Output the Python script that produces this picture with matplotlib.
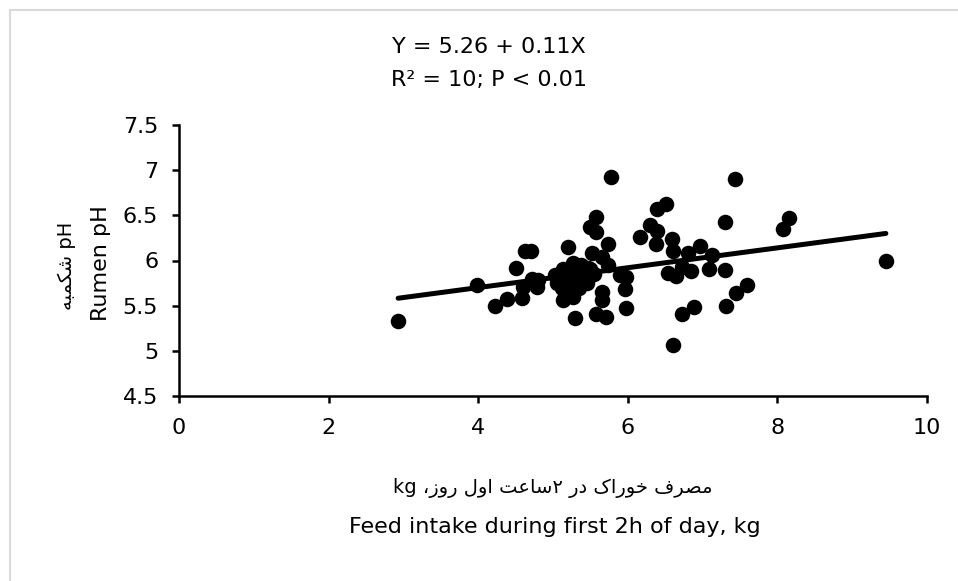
import re
import numpy as np
import matplotlib.pyplot as plt
from matplotlib.patches import Rectangle

# Feed intake (kg, first 2 h) vs rumen pH
feed_intake = [2.93, 3.98, 4.22, 4.38, 4.50, 4.58, 4.62, 4.70, 4.72, 4.60,
               4.78, 4.80, 5.03, 5.05, 5.14, 5.14, 5.20, 5.23, 5.27, 5.27,
               5.29, 5.45, 5.50, 5.50, 5.52, 5.58, 5.58, 5.58, 5.65, 5.65,
               5.65, 5.71, 5.74, 5.74, 5.77, 5.90, 5.96, 5.97, 5.97, 6.16,
               6.30, 6.39, 6.39, 6.51, 6.38, 6.59, 6.60, 6.54, 6.65, 6.72,
               6.85, 6.81, 6.96, 7.08, 7.12, 7.30, 7.30, 7.43, 7.45, 7.59,
               7.31, 6.88, 6.73, 6.60, 8.08, 8.15, 9.45,
               5.10, 5.18, 5.33, 5.40, 5.35, 5.22, 5.42, 5.55, 5.47, 5.30,
               5.38, 5.12]
rumen_ph = [5.33, 5.73, 5.50, 5.57, 5.92, 5.59, 6.10, 6.11, 5.79, 5.71,
            5.71, 5.78, 5.84, 5.75, 5.56, 5.91, 6.15, 5.78, 5.97, 5.60,
            5.36, 5.75, 5.91, 6.37, 6.08, 6.48, 6.31, 5.41, 6.04, 5.65,
            5.56, 5.37, 6.18, 5.95, 6.92, 5.84, 5.69, 5.82, 5.47, 6.26,
            6.39, 6.33, 6.57, 6.63, 6.18, 6.24, 6.11, 5.86, 5.83, 5.93,
            5.88, 6.08, 6.16, 5.91, 6.06, 5.89, 6.43, 6.90, 5.64, 5.73,
            5.50, 5.49, 5.41, 5.06, 6.35, 6.47, 6.00,
            5.80, 5.88, 5.78, 5.88, 5.70, 5.72, 5.80, 5.85, 5.92, 5.85,
            5.95, 5.70]

intercept, slope = 5.26, 0.11

x_ticks = [0, 2, 4, 6, 8, 10]
x_labels = ['0', '2', '4', '6', '8', '10']
y_ticks = [4.5, 5, 5.5, 6, 6.5, 7, 7.5]
y_labels = ['4.5', '5', '5.5', '6', '6.5', '7', '7.5']

eq_line1 = 'Y = 5.26 + 0.11X'
eq_line2 = 'R² = 10; P < 0.01'
xlabel_fa = 'مصرف خوراک در ۲ساعت اول روز، kg'
xlabel_en = 'Feed intake during first 2h of day, kg'
ylabel_fa = 'pH شکمبه'
ylabel_en = 'Rumen pH'

# matplotlib does no Arabic shaping, so pick presentation forms by hand
# (isolated, final, initial, medial)
FORMS = {
    'ا': (0xFE8D, 0xFE8E, None, None),
    'ب': (0xFE8F, 0xFE90, 0xFE91, 0xFE92),
    'ت': (0xFE95, 0xFE96, 0xFE97, 0xFE98),
    'خ': (0xFEA5, 0xFEA6, 0xFEA7, 0xFEA8),
    'د': (0xFEA9, 0xFEAA, None, None),
    'ر': (0xFEAD, 0xFEAE, None, None),
    'ز': (0xFEAF, 0xFEB0, None, None),
    'س': (0xFEB1, 0xFEB2, 0xFEB3, 0xFEB4),
    'ش': (0xFEB5, 0xFEB6, 0xFEB7, 0xFEB8),
    'ص': (0xFEB9, 0xFEBA, 0xFEBB, 0xFEBC),
    'ع': (0xFEC9, 0xFECA, 0xFECB, 0xFECC),
    'ف': (0xFED1, 0xFED2, 0xFED3, 0xFED4),
    'ل': (0xFEDD, 0xFEDE, 0xFEDF, 0xFEE0),
    'م': (0xFEE1, 0xFEE2, 0xFEE3, 0xFEE4),
    'ه': (0xFEE9, 0xFEEA, 0xFEEB, 0xFEEC),
    'و': (0xFEED, 0xFEEE, None, None),
    'ک': (0xFB8E, 0xFB8F, 0xFB90, 0xFB91),
}


def shape_rtl(text):
    out = []
    for i, ch in enumerate(text):
        if ch not in FORMS:
            out.append(ch)
            continue
        iso, fin, ini, med = FORMS[ch]
        prev = text[i - 1] if i > 0 else ''
        nxt = text[i + 1] if i + 1 < len(text) else ''
        jp = prev in FORMS and FORMS[prev][2] is not None
        jn = ini is not None and nxt in FORMS
        if jp and jn:
            out.append(chr(med))
        elif jp:
            out.append(chr(fin))
        elif jn:
            out.append(chr(ini))
        else:
            out.append(chr(iso))
    visual = ''.join(out)[::-1]
    # latin runs keep their own order
    return re.sub(r'[A-Za-z0-9.]+', lambda m: m.group(0)[::-1], visual)


W, H = 958, 581
fig = plt.figure(figsize=(W / 100, H / 100), dpi=100)
fig.patch.set_facecolor('white')

# light frame around the picture
fig.patches.append(Rectangle((10 / W, -0.05), 1.1, 1.05 - 10 / H,
                             transform=fig.transFigure, fill=False,
                             edgecolor='#d9d9d9', lw=1.5))

ax = fig.add_axes([179 / W, 1 - 396 / H, (927 - 179) / W, (396 - 125) / H])

ax.scatter(feed_intake, rumen_ph, s=125, color='black', zorder=3, linewidths=0)

xs = np.array([min(feed_intake), max(feed_intake)])
ax.plot(xs, intercept + slope * xs, color='black', lw=3.6, zorder=2,
        solid_capstyle='round')

ax.set_xlim(0, 10)
ax.set_ylim(4.5, 7.5)
ax.set_xticks(x_ticks)
ax.set_xticklabels(x_labels)
ax.set_yticks(y_ticks)
ax.set_yticklabels(y_labels)

for side in ['top', 'right']:
    ax.spines[side].set_visible(False)
for side in ['left', 'bottom']:
    ax.spines[side].set_linewidth(1.8)
ax.tick_params(axis='both', direction='out', length=5, width=1.8,
               labelsize=16, colors='black')
ax.tick_params(axis='x', pad=11)
ax.tick_params(axis='y', pad=10)

fig.text(489 / W, 1 - 47 / H, eq_line1, ha='center', va='center', fontsize=16)
fig.text(489 / W, 1 - 80 / H, eq_line2, ha='center', va='center', fontsize=16)

fig.text(553 / W, 1 - 488 / H, shape_rtl(xlabel_fa), ha='center', va='center',
         fontsize=14)
fig.text(555 / W, 1 - 527 / H, xlabel_en, ha='center', va='center', fontsize=16)

fig.text(101 / W, 1 - 263 / H, ylabel_en, ha='center', va='center',
         rotation=90, fontsize=16)
fig.text(67 / W, 1 - 266 / H, shape_rtl(ylabel_fa), ha='center', va='center',
         rotation=90, fontsize=14)

fig.savefig('out.png', dpi=100)
